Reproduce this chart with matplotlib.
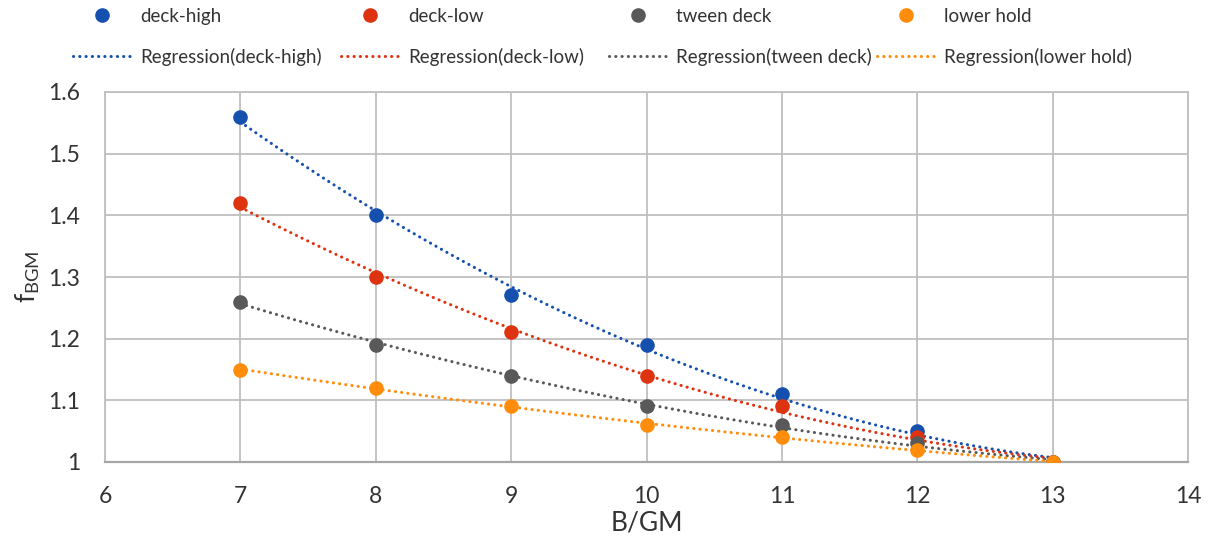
import numpy as np
import matplotlib
matplotlib.use("Agg")
import matplotlib.pyplot as plt

plt.rcParams['font.family'] = ['Lato', 'DejaVu Sans']
plt.rcParams['mathtext.default'] = 'regular'

x = [7, 8, 9, 10, 11, 12, 13]
deck_high = [1.56, 1.40, 1.27, 1.19, 1.11, 1.05, 1.00]
deck_low = [1.42, 1.30, 1.21, 1.14, 1.09, 1.04, 1.00]
tween_deck = [1.26, 1.19, 1.14, 1.09, 1.06, 1.03, 1.00]
lower_hold = [1.15, 1.12, 1.09, 1.06, 1.04, 1.02, 1.00]

series = [
    ("deck-high", deck_high, "#1650AF"),
    ("deck-low", deck_low, "#DD3311"),
    ("tween deck", tween_deck, "#595959"),
    ("lower hold", lower_hold, "#FF8C0A"),
]

W, H = 1212, 545
fig = plt.figure(figsize=(W/100, H/100), dpi=100)
ax = fig.add_axes([105/W, 1 - 462/H, (1188-105)/W, (462-92)/H])

xs = np.linspace(min(x), max(x), 200)
for i, (name, vals, col) in enumerate(series):
    coef = np.polyfit(x, vals, 2)
    ln, = ax.plot(xs, np.polyval(coef, xs), color=col, lw=2.2,
                  linestyle=(0, (0.05, 2.0)), dash_capstyle='round',
                  label=f"Regression({name})", zorder=3)
    sc, = ax.plot(x, vals, 'o', color=col, ms=9.5, label=name, zorder=4,
                  linestyle='none')
    fig.legend(handles=[sc, ln], loc='upper left',
               bbox_to_anchor=((73 + 268*i)/W, 1 - 8/H),
               frameon=False, fontsize=13.5, handlelength=3.1,
               handletextpad=0.5, labelspacing=1.2, borderpad=0,
               borderaxespad=0, labelcolor="#333333")

ax.set_xlim(6, 14)
ax.set_ylim(1.0, 1.6)
ax.set_xticks(range(6, 15))
ax.set_yticks([1.0, 1.1, 1.2, 1.3, 1.4, 1.5, 1.6])
ax.set_yticklabels(["1", "1.1", "1.2", "1.3", "1.4", "1.5", "1.6"])
ax.grid(True, color="#BFBFBF", lw=1.3)
ax.set_axisbelow(True)
for s in ax.spines.values():
    s.set_color("#BFBFBF")
    s.set_linewidth(1.3)
ax.spines['bottom'].set_color("#A6A6A6")
ax.spines['bottom'].set_linewidth(1.6)
ax.tick_params(length=0, labelsize=16.5, colors="#333333")
ax.tick_params(axis='x', pad=17)
ax.tick_params(axis='y', pad=18)
ax.set_xlabel("B/GM", fontsize=19, color="#333333", labelpad=3)
ax.set_ylabel("f$_{BGM}$", fontsize=19, color="#333333", labelpad=4)

fig.savefig("out.png", dpi=100)
